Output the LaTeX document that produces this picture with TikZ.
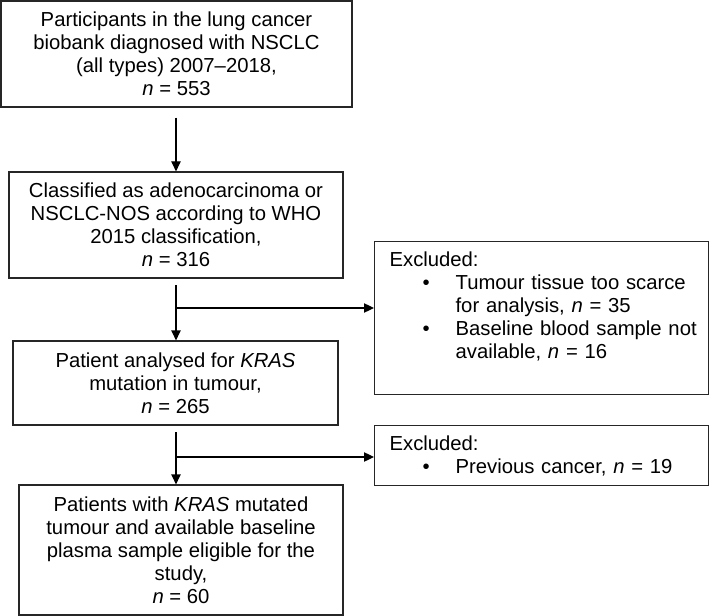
\documentclass[tikz,border=0pt]{standalone}
\usepackage{fontspec}
\setmainfont{Liberation Sans}
\usetikzlibrary{arrows.meta}

\newcommand{\exitem}[1]{\mbox{\hspace*{24.75pt}\makebox[24.75pt][l]{\textbullet}#1}}
\newcommand{\excont}[1]{\mbox{\hspace*{49.5pt}#1}}

\begin{document}
\begin{tikzpicture}[x=0.75pt, y=-0.75pt,
  box/.style={draw=black!85, line width=0.9pt, align=center, inner sep=0pt,
    font=\fontsize{15.2pt}{17.25pt}\selectfont},
  exbox/.style={box, align=left, anchor=north west, inner xsep=11.25pt,
    text width=228pt, minimum width=250.5pt},
  flow/.style={->, >={Triangle[length=7.5pt,width=7pt]}, line width=0.9pt, shorten <=5pt}]

  \useasboundingbox (0,0) rectangle (709,616);

  % Define nodes
  \node[box, minimum width=263.25pt, minimum height=79.5pt] (nsclc) at (176.5,54)
    {Participants in the lung cancer\\biobank diagnosed with NSCLC\\(all types) 2007–2018,\\\textit{n} = 553};
  \node[box, minimum width=250.5pt, minimum height=79.5pt] (adeno) at (176,225)
    {Classified as adenocarcinoma or\\NSCLC-NOS according to WHO\\2015 classification,\\\textit{n} = 316};
  \node[box, minimum width=243.75pt, minimum height=63pt] (kras) at (175.5,383)
    {Patient analysed for \textit{KRAS}\\mutation in tumour,\\\textit{n} = 265};
  \node[box, minimum width=243pt, minimum height=97.5pt] (study) at (181,550)
    {Patients with \textit{KRAS} mutated\\tumour and available baseline\\plasma sample eligible for the\\study,\\\textit{n} = 60};
  \node[exbox, inner ysep=8pt] (excl1) at (374,241)
    {\parbox[c][98.75pt][t]{228pt}{\raggedright Excluded:\\
      \exitem{Tumour tissue too scarce}\\
      \excont{for analysis, \textit{n} = 35}\\
      \exitem{Baseline blood sample not}\\
      \excont{available, \textit{n} = 16}}};
  \node[exbox, minimum height=45pt] (excl2) at (374,425)
    {Excluded:\\\exitem{Previous cancer, \textit{n} = 19}};

  \coordinate (j1) at (176,308);
  \coordinate (j2) at (176,457);

  % Connect the nodes
  \draw[flow, shorten <=7.5pt] (nsclc.south -| j1) -- (adeno.north -| j1);
  \draw[flow] (adeno.south -| j1) -- (kras.north -| j1);
  \draw[flow, shorten <=0pt] (j1) -- (j1 -| excl1.west);
  \draw[flow] (kras.south -| j2) -- (study.north -| j2);
  \draw[flow, shorten <=0pt] (j2) -- (j2 -| excl2.west);

\end{tikzpicture}
\end{document}
